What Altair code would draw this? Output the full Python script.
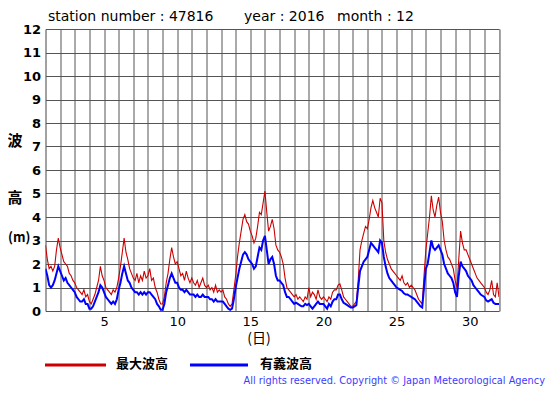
import altair as alt
import pandas as pd

# wave heights, 8 samples per day (3-hourly), days 1..31, plus day 32.0
max_wave = [
    2.8, 2.2, 1.8, 1.9, 1.7, 1.9, 2.6, 3.1,
    2.7, 2.4, 2.1, 2.0, 1.9, 1.6, 1.5, 1.3,
    1.2, 1.0, 0.9, 0.8, 0.7, 0.9, 0.6, 0.7,
    0.4, 0.3, 0.5, 0.7, 1.0, 1.3, 1.9, 1.5,
    1.3, 1.0, 0.9, 0.8, 0.7, 0.9, 0.8, 1.0,
    1.4, 1.9, 2.5, 3.1, 2.5, 2.2, 1.8, 1.6,
    1.4, 1.3, 1.6, 1.2, 1.5, 1.3, 1.7, 1.4,
    1.5, 1.8, 1.3, 1.4, 1.0, 0.8, 0.5, 0.3,
    0.3, 0.6, 1.2, 1.6, 2.2, 2.7, 2.3, 2.0,
    2.1, 1.8, 1.5, 1.6, 1.3, 1.7, 1.4, 1.2,
    1.4, 1.2, 1.1, 1.3, 1.0, 1.2, 1.4, 1.1,
    1.0, 1.1, 0.9, 1.0, 0.8, 1.1, 0.8, 0.9,
    0.8, 0.9, 0.6, 0.5, 0.3, 0.2, 0.3, 0.9,
    1.5, 2.3, 2.9, 3.4, 3.9, 4.1, 3.8, 3.7,
    3.4, 3.2, 2.9, 3.1, 3.6, 4.2, 4.1, 4.6,
    5.1, 4.2, 3.4, 3.6, 3.9, 3.5, 2.8, 2.6,
    2.5, 2.3, 2.0, 1.4, 1.0, 0.9, 0.8, 0.7,
    0.6, 0.7, 0.5, 0.6, 0.5, 0.4, 0.6, 0.5,
    1.0, 0.6, 0.8, 0.7, 0.5, 0.9, 0.6, 0.5,
    0.6, 0.5, 0.4, 0.6, 0.5, 0.8, 0.9, 0.9,
    1.1, 1.15, 0.9, 0.6, 0.5, 0.4, 0.3, 0.2,
    0.2, 0.3, 0.4, 1.3, 2.6, 3.0, 3.3, 3.6,
    3.5, 3.9, 4.4, 4.7, 4.4, 4.2, 4.0, 4.8,
    4.6, 3.0, 2.5, 2.2, 2.0, 1.8, 1.7, 1.6,
    1.5, 1.4, 1.3, 1.5, 1.2, 1.1, 1.2, 1.0,
    1.1, 1.0, 0.9, 0.7, 0.5, 0.4, 0.3, 1.5,
    2.6, 3.3, 4.0, 4.9, 4.3, 4.0, 4.5, 4.85,
    4.2, 3.8, 3.0, 2.6, 2.3, 2.2, 2.0, 1.8,
    1.3, 1.0, 2.2, 3.4, 2.9, 2.6, 2.6, 2.4,
    2.2, 2.0, 1.8, 1.6, 1.4, 1.3, 1.2, 1.1,
    1.0, 0.8, 0.7, 0.9, 1.3, 0.7, 0.6, 1.2,
    0.6,
]
sig_wave = [
    1.8, 1.5, 1.1, 1.0, 1.1, 1.3, 1.6, 1.9,
    1.7, 1.5, 1.3, 1.4, 1.2, 1.1, 1.0, 0.9,
    0.8, 0.6, 0.5, 0.4, 0.4, 0.5, 0.3, 0.3,
    0.1, 0.1, 0.2, 0.4, 0.6, 0.8, 1.1, 1.0,
    0.8, 0.6, 0.5, 0.4, 0.3, 0.4, 0.3, 0.5,
    0.9, 1.2, 1.6, 1.9, 1.6, 1.3, 1.2, 1.0,
    0.9, 0.8, 0.8, 0.7, 0.8, 0.7, 0.8, 0.7,
    0.8, 0.8, 0.7, 0.6, 0.5, 0.3, 0.2, 0.05,
    0.05, 0.3, 0.8, 1.1, 1.4, 1.6, 1.4, 1.2,
    1.2, 1.0, 0.9, 0.9, 0.8, 0.9, 0.8, 0.7,
    0.7, 0.7, 0.6, 0.7, 0.6, 0.6, 0.7, 0.6,
    0.6, 0.6, 0.5, 0.5, 0.4, 0.5, 0.4, 0.4,
    0.4, 0.4, 0.3, 0.2, 0.1, 0.05, 0.1, 0.5,
    1.0, 1.4, 1.8, 2.1, 2.4, 2.5, 2.4, 2.2,
    2.1, 2.0, 1.8, 1.9, 2.3, 2.7, 2.6, 3.0,
    3.2, 2.6, 2.0, 2.2, 2.3, 2.0, 1.5, 1.3,
    1.3, 1.2, 1.1, 0.8, 0.6, 0.6, 0.5, 0.4,
    0.3, 0.35, 0.3, 0.25, 0.2, 0.2, 0.3, 0.25,
    0.3, 0.2, 0.1, 0.2, 0.3, 0.4, 0.3, 0.3,
    0.3, 0.2, 0.1, 0.3, 0.2, 0.4, 0.5, 0.5,
    0.7, 0.7, 0.5, 0.35, 0.3, 0.25, 0.2, 0.15,
    0.15, 0.2, 0.25, 1.0, 1.7, 1.9, 2.1, 2.2,
    2.3, 2.6, 2.9, 2.8, 2.7, 2.6, 2.5, 3.0,
    2.9, 2.3, 1.9, 1.6, 1.4, 1.3, 1.2, 1.1,
    1.0, 0.95, 0.9, 0.85, 0.75, 0.7, 0.7, 0.65,
    0.6, 0.55, 0.5, 0.4, 0.3, 0.2, 0.15, 1.0,
    1.8, 2.0, 2.5, 3.0, 2.7, 2.6, 2.7, 2.8,
    2.6, 2.4, 2.0, 1.8, 1.6, 1.5, 1.4, 1.2,
    0.8, 0.6, 1.5, 2.1, 1.9, 1.8, 1.7, 1.5,
    1.4, 1.3, 1.1, 1.0, 0.9, 0.8, 0.7, 0.65,
    0.6, 0.45, 0.4, 0.45, 0.5, 0.35, 0.3, 0.3,
    0.3,
]
days = [1 + i / 8 for i in range(len(max_wave))]
x_ticks = list(range(1, 33))
y_ticks = list(range(0, 13))

W, H = 453.5, 282
PL, PT = 37.5, 21  # padding (page offset of plot area minus 8px margin)

df = pd.DataFrame({"day": days, "max": max_wave, "sig": sig_wave})

x_scale = alt.Scale(domain=[1, 32], nice=False, zero=False)
x_axis = alt.Axis(values=x_ticks, title=None, grid=True, ticks=False, domain=False,
                  labelExpr="datum.value % 5 == 0 ? datum.value : ''", labelOverlap=False,
                  labelFont="DejaVu Sans", labelFontSize=13, labelColor="black",
                  labelPadding=4, gridColor="#555555", gridWidth=1, labelFlush=False)
y_scale = alt.Scale(domain=[0, 12], nice=False)
y_axis = alt.Axis(values=y_ticks, title=None, grid=True, ticks=False, domain=False,
                  labelOverlap=False, labelFlush=False,
                  labelFont="DejaVu Sans", labelFontSize=13, labelFontWeight="bold",
                  labelColor="black", labelPadding=5, gridColor="#555555", gridWidth=1)

red = alt.Chart(df).mark_line(color="#cc0000", strokeWidth=1.1, clip=True).encode(
    x=alt.X("day:Q", scale=x_scale, axis=x_axis),
    y=alt.Y("max:Q", scale=y_scale, axis=y_axis))
blue = alt.Chart(df).mark_line(color="#0000ff", strokeWidth=2, clip=True).encode(
    x=alt.X("day:Q", scale=x_scale, axis=x_axis),
    y=alt.Y("sig:Q", scale=y_scale, axis=y_axis))


def txt(s, px, py, size=13, weight="normal", font="DejaVu Sans", color="black", align="left"):
    return alt.Chart(pd.DataFrame({"t": [s]})).mark_text(
        align=align, baseline="middle", fontSize=size, fontWeight=weight, font=font,
        color=color, clip=False).encode(
        text="t:N", x=alt.value(px - 8 - PL), y=alt.value(py - 8 - PT))


def rule(x1, x2, py, color):
    return alt.Chart(pd.DataFrame({"a": [0]})).mark_rule(color=color, strokeWidth=3).encode(
        x=alt.value(x1 - 8 - PL), x2=alt.value(x2 - 8 - PL), y=alt.value(py - 8 - PT))


texts = [
    txt("station number : 47816", 48, 17, 14),
    txt("year : 2016", 244, 17, 14),
    txt("month : 12", 337, 17, 14),
    txt("波", 15, 141, 15, "bold", "Noto Sans CJK JP", align="center"),
    txt("高", 15, 198, 15, "bold", "Noto Sans CJK JP", align="center"),
    txt("(m)", 8, 238, 13, "bold", "Noto Sans CJK JP"),
    txt("(日)", 259, 339, 14, "normal", "Noto Sans CJK JP", align="center"),
    txt("最大波高", 116, 364, 13, "bold", "Noto Sans CJK JP"),
    txt("有義波高", 260, 364, 13, "bold", "Noto Sans CJK JP"),
    txt("All rights reserved. Copyright © Japan Meteorological Agency", 545, 381, 9.8,
        "normal", "DejaVu Sans", "#3c3cff", align="right"),
]
legend = [rule(45, 106, 365, "#cc0000"), rule(190, 248, 365, "#0000ff")]

chart = alt.layer(red, blue, *legend, *texts).properties(
    width=W, height=H, autosize="none",
    padding={"left": PL, "top": PT, "right": 539 - PL - W, "bottom": 379 - PT - H},
).configure_view(stroke="black", strokeWidth=1.5).configure(background="white")

chart.save("out.html", embed_options={"renderer": "svg", "actions": False})
